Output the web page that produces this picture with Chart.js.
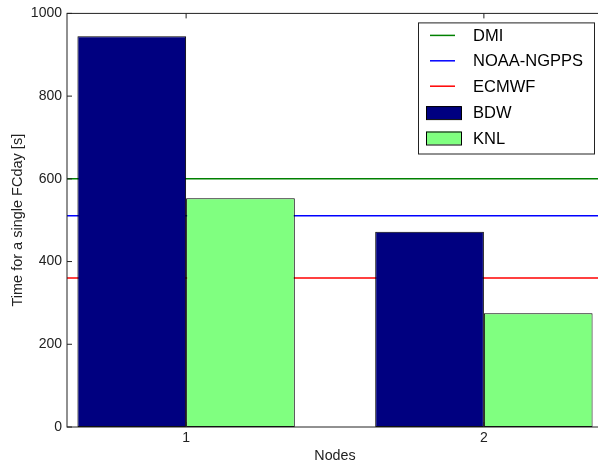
<!DOCTYPE html>
<html>
<head>
<meta charset="utf-8">
<script src="https://cdn.jsdelivr.net/npm/chart.js@4/dist/chart.umd.min.js"></script>
<style>
  html, body { margin: 0; padding: 0; background: #fff; overflow: hidden; }
  #wrap { width: 598px; height: 467px; overflow: hidden; position: relative; }
  #chart { display: block; }
</style>
</head>
<body>
<div id="wrap"><canvas id="chart" width="606" height="467"></canvas></div>
<script>
// Node counts on the x axis and the plotted x range
const nodes = [1, 2];
const xRange = [0.6, 2.4];
const barWidth = 0.365;

// Measured time per forecast day [s]
const bdwTimes = [945, 472];
const knlTimes = [553, 275];

// Reference targets drawn as horizontal lines
const refLabels = ['DMI', 'NOAA-NGPPS', 'ECMWF'];
const refTimes = [600, 511, 360];
const refColors = ['#008000', '#0000ff', '#ff0000'];

const yTicks = [0, 200, 400, 600, 800, 1000];

const FONT = '"Liberation Sans", Arial, Helvetica, sans-serif';

const lineSets = refLabels.map((label, i) => ({
  type: 'line',
  label: label,
  data: xRange.map(x => ({ x: x, y: refTimes[i] })),
  borderColor: refColors[i],
  backgroundColor: refColors[i],
  borderWidth: 1.5,
  pointRadius: 0,
  fill: false,
  order: 1
}));

const barSets = [
  { label: 'BDW', values: bdwTimes, color: '#000080' },
  { label: 'KNL', values: knlTimes, color: '#80ff80' }
].map(s => ({
  type: 'bar',
  label: s.label,
  data: nodes.map((n, i) => ({ x: n, y: s.values[i] })),
  backgroundColor: s.color,
  borderColor: '#000',
  borderWidth: 1,
  borderSkipped: false,
  categoryPercentage: barWidth * 2,
  barPercentage: 1,
  order: 0
}));

// Box frame plus inward tick marks on all four sides
const framePlugin = {
  id: 'frame',
  afterDatasetsDraw(chart) {
    const { ctx, chartArea: a, scales: { x, y } } = chart;
    ctx.save();
    ctx.strokeStyle = '#222';
    ctx.lineWidth = 1;
    ctx.strokeRect(a.left, a.top, a.right - a.left, a.bottom - a.top);
    ctx.beginPath();
    const t = 5;
    yTicks.forEach(v => {
      const py = y.getPixelForValue(v);
      ctx.moveTo(a.left, py); ctx.lineTo(a.left + t, py);
      ctx.moveTo(a.right, py); ctx.lineTo(a.right - t, py);
    });
    nodes.forEach(v => {
      const px = x.getPixelForValue(v);
      ctx.moveTo(px, a.bottom); ctx.lineTo(px, a.bottom - t);
      ctx.moveTo(px, a.top); ctx.lineTo(px, a.top + t);
    });
    ctx.stroke();
    ctx.restore();
  }
};

// Framed legend in the upper right of the plot
const boxLegendPlugin = {
  id: 'boxLegend',
  afterDraw(chart) {
    const { ctx, chartArea: a } = chart;
    const sets = chart.data.datasets;
    const boxW = 176, rowH = 25.4, padTop = 12.5;
    const boxRight = 594;
    const boxLeft = boxRight - boxW;
    const boxTop = a.top + 9;
    const boxH = rowH * (sets.length - 1) + padTop * 2 + 4.5;
    ctx.save();
    ctx.fillStyle = '#fff';
    ctx.fillRect(boxLeft, boxTop, boxW, boxH);
    ctx.strokeStyle = '#222';
    ctx.lineWidth = 1;
    ctx.strokeRect(boxLeft + 0.5, boxTop + 0.5, boxW, boxH);
    ctx.font = '16.5px ' + FONT;
    ctx.textBaseline = 'middle';
    ctx.textAlign = 'left';
    sets.forEach((ds, i) => {
      const cy = boxTop + padTop + 0.5 + i * rowH + (ds.type === 'bar' ? 1 : 0);
      if (ds.type === 'line') {
        ctx.strokeStyle = ds.borderColor;
        ctx.lineWidth = 1.5;
        ctx.beginPath();
        ctx.moveTo(boxLeft + 12, cy);
        ctx.lineTo(boxLeft + 37, cy);
        ctx.stroke();
      } else {
        ctx.fillStyle = ds.backgroundColor;
        ctx.fillRect(boxLeft + 8, cy - 6.5, 35, 13);
        ctx.strokeStyle = '#000';
        ctx.lineWidth = 1;
        ctx.strokeRect(boxLeft + 8.5, cy - 6, 35, 13);
      }
      ctx.fillStyle = '#000';
      ctx.fillText(ds.label, boxLeft + 55, cy + 1);
    });
    ctx.restore();
  }
};

new Chart(document.getElementById('chart'), {
  type: 'bar',
  data: { datasets: [...lineSets, ...barSets] },
  options: {
    responsive: false,
    animation: false,
    devicePixelRatio: 1,
    layout: { padding: { left: 0, top: 12, right: 3, bottom: 0 } },
    plugins: {
      legend: { display: false },
      tooltip: { enabled: false }
    },
    scales: {
      x: {
        type: 'linear',
        min: xRange[0],
        max: xRange[1],
        offset: false,
        afterBuildTicks: s => { s.ticks = nodes.map(v => ({ value: v })); },
        afterFit: s => { s.height = 40; },
        grid: { display: false, drawTicks: false },
        border: { display: false },
        ticks: {
          color: '#222',
          padding: 3,
          maxRotation: 0,
          font: { family: FONT, size: 14 },
          callback: v => String(v)
        },
        title: {
          display: true,
          text: 'Nodes',
          color: '#222',
          padding: { top: 0, bottom: 2 },
          font: { family: FONT, size: 14.3 }
        }
      },
      y: {
        min: 0,
        max: 1000,
        afterBuildTicks: s => { s.ticks = yTicks.map(v => ({ value: v })); },
        afterFit: s => { s.width = 67; },
        grid: { display: false, drawTicks: false },
        border: { display: false },
        ticks: {
          color: '#222',
          padding: 5,
          font: { family: FONT, size: 14 },
          callback: v => String(v)
        },
        title: {
          display: true,
          text: 'Time for a single FCday [s]',
          color: '#222',
          padding: { top: 9.5, bottom: 0 },
          font: { family: FONT, size: 14.5 }
        }
      }
    }
  },
  plugins: [framePlugin, boxLegendPlugin]
});
</script>
</body>
</html>
